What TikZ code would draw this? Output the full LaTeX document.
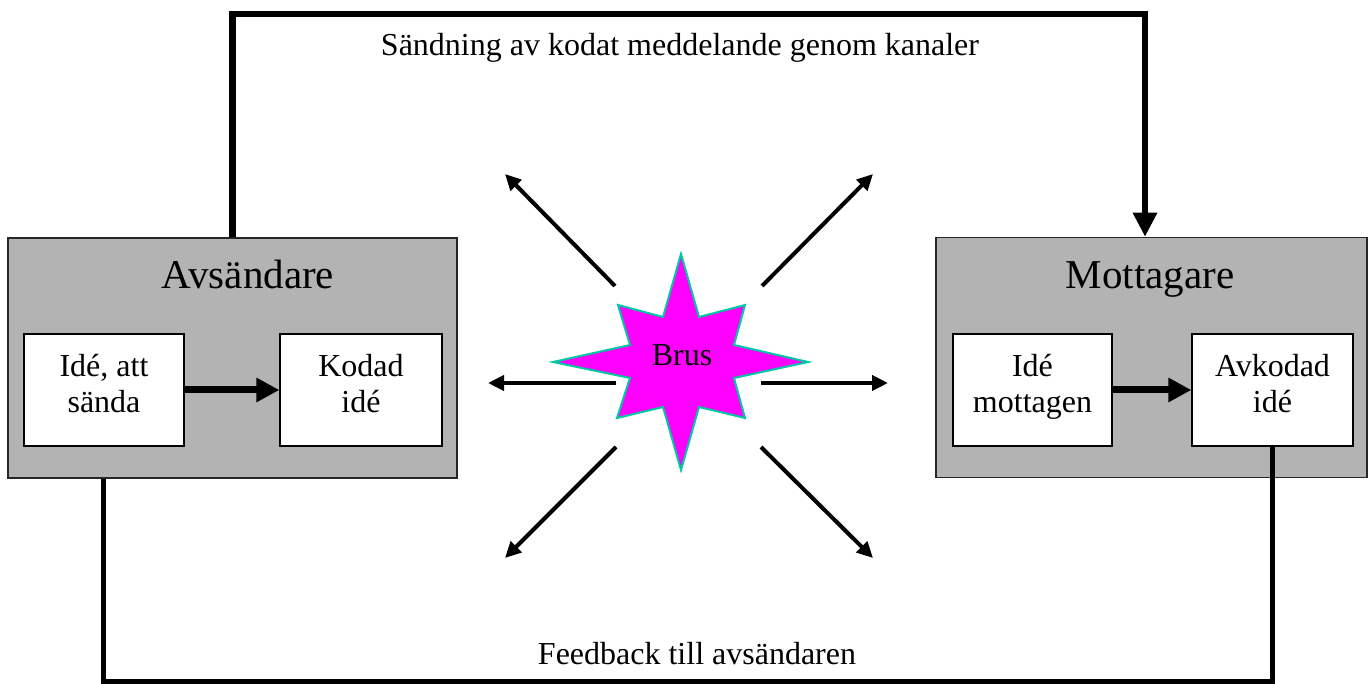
\documentclass[tikz,border=0pt]{standalone}
\usepackage{fontspec}
\setmainfont{Liberation Serif}
\usetikzlibrary{arrows.meta}
\definecolor{boxgray}{RGB}{179,179,179}
\definecolor{starfill}{RGB}{255,0,255}
\definecolor{starline}{RGB}{0,200,160}
% struts that fix the baselines of the two-line labels
\newcommand\topstrut{\rule{0pt}{22pt}}
\newcommand\botstrut{\rule[-14pt]{0pt}{14pt}}

\begin{document}
\begin{tikzpicture}[x=1pt,y=-1pt,
  party/.style={draw=black!85, line width=1.5pt, fill=boxgray,
    minimum width=#1, minimum height=240pt, inner sep=0pt},
  ideabox/.style={draw=black, line width=1.2pt, fill=white,
    minimum width=#1, minimum height=112pt, inner sep=0pt, align=center,
    font=\fontsize{32}{36}\selectfont},
  title/.style={anchor=base, font=\fontsize{41}{48}\selectfont},
  caption/.style={anchor=base, font=\fontsize{32}{38}\selectfont},
  inner arrow/.style={line width=7pt, -{Triangle[length=23pt,width=23pt]}},
  channel/.style={line width=6.5pt, line join=miter, -{Triangle[length=24pt,width=23pt]}},
  feedback/.style={line width=5pt, line join=miter},
  noise arrow/.style={line width=4pt, -{Triangle[length=16pt,width=15pt]}},
]
\useasboundingbox (0,0) rectangle (1368,684);

% sender and receiver
\node[party=449pt] (sender) at (232.5,358) {};
\node[party=431pt] (receiver) at (1151.5,357.5) {};
\node[title] (sendertitle) at (248,289) {Avsändare};
\node[title] (receivertitle) at (1150,289) {Mottagare};

\node[ideabox=160pt] (idea) at (104,390) {\topstrut Idé, att\\ sända\botstrut};
\node[ideabox=162pt] (coded) at (361,390) {\topstrut Kodad\\ idé\botstrut};
\node[ideabox=159pt] (received) at (1032.5,390) {\topstrut Idé\\ mottagen\botstrut};
\node[ideabox=161pt] (decoded) at (1272.5,390) {\topstrut Avkodad\\ idé\botstrut};

\draw[inner arrow] (idea.east) -- (coded.west);
\draw[inner arrow] (received.east) -- (decoded.west);

% channel on top, feedback at the bottom
\coordinate (chan) at (1145,14);
\draw[channel] (sender.north) |- (chan) -- (chan |- receiver.north);
\node[caption] (chantext) at (680,56) {Sändning av kodat meddelande genom kanaler};

\coordinate (fb) at (103,681);
\draw[feedback] (decoded.south) |- (fb) -- (fb |- sender.south);
\node[caption] (fbtext) at (697,664) {Feedback till avsändaren};

% noise star
\begin{scope}[shift={(681,362)}]
\draw[fill=starfill, draw=starline, line width=2pt, line join=miter]
  (0,-108) -- (18,-45) -- (64,-57) -- (53,-17) -- (127,0) -- (53,16) --
  (64,56) -- (18,45) -- (0,108) -- (-18,45) -- (-64,56) -- (-51,16) --
  (-128,0) -- (-51,-17) -- (-63,-57) -- (-18,-45) -- cycle;
\end{scope}
\node[caption] (noise) at (682,366) {Brus};

% noise spreading outwards
\coordinate (nUL) at (615,286); \coordinate (tUL) at (505,174);
\coordinate (nUR) at (762,286); \coordinate (tUR) at (873,174);
\coordinate (nL) at (616,383);  \coordinate (tL) at (488,383);
\coordinate (nR) at (761,383);  \coordinate (tR) at (888,383);
\coordinate (nDL) at (616,447); \coordinate (tDL) at (505,558);
\coordinate (nDR) at (761,447); \coordinate (tDR) at (873,558);
\foreach \s/\t in {nUL/tUL,nUR/tUR,nL/tL,nR/tR,nDL/tDL,nDR/tDR}
  \draw[noise arrow] (\s) -- (\t);
\end{tikzpicture}
\end{document}
